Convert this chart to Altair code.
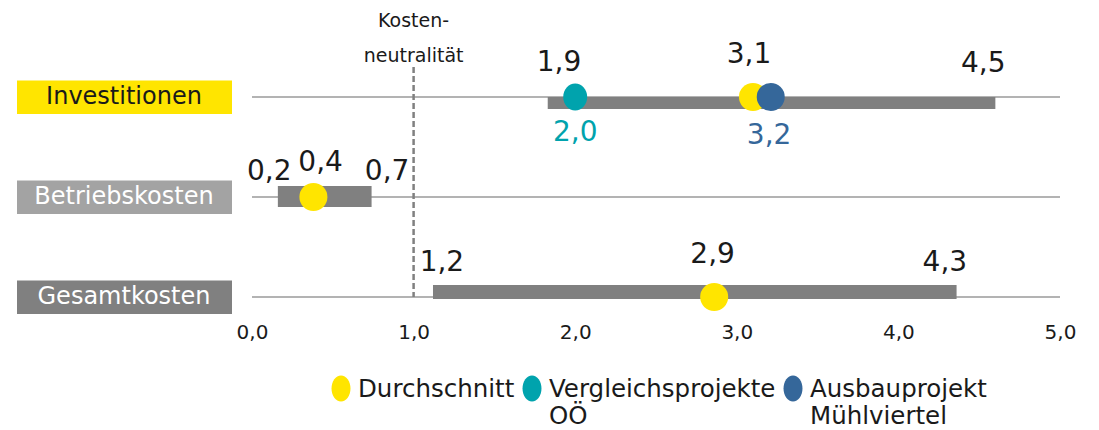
import altair as alt
import pandas as pd

# ---------------- data ----------------
categories = ["Investitionen", "Betriebskosten", "Gesamtkosten"]
range_min = [1.83, 0.16, 1.12]
range_max = [4.60, 0.74, 4.36]

series = ["Durchschnitt", "Vergleichsprojekte OÖ", "Ausbauprojekt Mühlviertel"]
point_category = ["Investitionen", "Betriebskosten", "Gesamtkosten",
                  "Investitionen", "Investitionen"]
point_series = ["Durchschnitt", "Durchschnitt", "Durchschnitt",
                "Vergleichsprojekte OÖ", "Ausbauprojekt Mühlviertel"]
point_value = [3.10, 0.38, 2.86, 2.00, 3.21]

label_category = ["Investitionen"] * 5 + ["Betriebskosten"] * 3 + ["Gesamtkosten"] * 3
label_value = [1.9, 3.1, 4.5, 2.0, 3.2, 0.2, 0.4, 0.7, 1.2, 2.9, 4.3]
label_series = ["Spanne", "Durchschnitt", "Spanne", "Vergleichsprojekte OÖ",
                "Ausbauprojekt Mühlviertel", "Spanne", "Durchschnitt", "Spanne",
                "Spanne", "Durchschnitt", "Spanne"]

x_ticks = [0, 1, 2, 3, 4, 5]
neutral_value = 1.0

# ---------------- styles ----------------
W, H = 808, 263
PX_X = W / 5.0      # pixels per x unit
PX_Y = 100.0        # pixels per row unit
series_colors = ["#FFE500", "#00A3AD", "#35679A"]
label_colors = {"Spanne": "#1a1a1a", "Durchschnitt": "#1a1a1a",
                "Vergleichsprojekte OÖ": "#00A3AD", "Ausbauprojekt Mühlviertel": "#35679A"}
box_fill = ["#FFE500", "#A3A3A3", "#808080"]
box_text = ["#1a1a1a", "#ffffff", "#ffffff"]
bar_top_px = [0, -11, -12]
bar_bottom_px = [12, 10, 2]
label_dx_px = [0, -4, 4, 0, 0, -15, 4, 22, -4, -8, -2]
label_dy_px = [-34.5, -42.5, -33, 36, 38.5, -25, -34, -25, -34.5, -42, -34]
FONT = "DejaVu Sans"

teal_path = "M0,-0.96A0.857,0.96,0,1,1,0,0.96A0.857,0.96,0,1,1,0,-0.96Z"
legend_path = "M0,-1.65A0.73,1,0,1,1,0,0.35A0.73,1,0,1,1,0,-1.65Z"

row_of = {c: i for i, c in enumerate(categories)}

df_cat = pd.DataFrame({
    "category": categories, "row": list(range(len(categories))),
    "lo": range_min, "hi": range_max,
    "box_fill": box_fill, "text_fill": box_text,
    "bt": bar_top_px, "bb": bar_bottom_px,
    "x0": [x_ticks[0]] * 3, "x1": [x_ticks[-1]] * 3,
})
df_pts = pd.DataFrame({
    "category": point_category, "series": point_series, "value": point_value,
    "row": [row_of[c] for c in point_category],
})
df_lab = pd.DataFrame({
    "category": label_category, "series": label_series, "value": label_value,
    "row": [row_of[c] for c in label_category],
    "dx": label_dx_px, "dy": label_dy_px,
    "tcolor": [label_colors[s] for s in label_series],
})
df_neutral = pd.DataFrame({"x": [neutral_value], "row_end": [len(categories) - 1]})

xscale = alt.Scale(domain=[x_ticks[0], x_ticks[-1]], nice=False, zero=False)
yscale = alt.Scale(domain=[-0.5, 2.13], reverse=True, nice=False, zero=False)
xaxis = alt.Axis(values=x_ticks, labelExpr="replace(format(datum.value, '.1f'), '.', ',')",
                 domain=False, ticks=False, grid=False, labelFont=FONT, labelFontSize=20,
                 labelColor="#1a1a1a", labelPadding=12, labelFlush=False,
                 labelOverlap=False, title=None)


def X(f):
    return alt.X(f, type="quantitative", scale=xscale, axis=xaxis)


def Y(f):
    return alt.Y(f, type="quantitative", scale=yscale, axis=None)


base = alt.Chart(df_cat)

grid = base.mark_rule(color="#9a9a9a", strokeWidth=1.5).encode(
    x=X("x0"), x2="x1", y=Y("row"))

neutral = alt.Chart(df_neutral).transform_calculate(row_start="-0.3").mark_rule(
    color="#808080", strokeWidth=2.5, strokeDash=[6, 3]).encode(
    x=X("x"), y=Y("row_start"), y2="row_end")

neutral_text = alt.Chart(df_neutral).mark_text(
    font=FONT, fontSize=19, color="#1a1a1a", align="center", baseline="alphabetic",
    lineBreak="\n", lineHeight=35).encode(
    x=X("x"), y=alt.value(-20), text=alt.value("Kosten-\nneutralität"))

bars = base.transform_calculate(
    ytop=f"datum.row + datum.bt / {PX_Y}", ybot=f"datum.row + datum.bb / {PX_Y}"
).mark_rect(color="#808080").encode(x=X("lo"), x2="hi", y=Y("ytop"), y2="ybot")

boxes = base.transform_calculate(
    btop="datum.row - 0.165", bbot="datum.row + 0.17"
).mark_rect().encode(
    x=alt.value(-235), x2=alt.value(-20), y=Y("btop"), y2="bbot",
    fill=alt.Fill("box_fill:N", scale=None))

box_labels = base.mark_text(font=FONT, fontSize=24, align="center", baseline="middle").encode(
    x=alt.value(-128), y=Y("row"), text="category:N",
    fill=alt.Fill("text_fill:N", scale=None))

legend = alt.Legend(
    title=None, orient="none", legendX=76, legendY=337, direction="horizontal",
    symbolType=legend_path, symbolSize=676, symbolStrokeWidth=0, symbolOpacity=1,
    labelFont=FONT, labelFontSize=24.5, labelColor="#1a1a1a",
    labelExpr="indexof(datum.label, ' ') < 0 ? [datum.label, '\u00a0'] : split(datum.label, ' ')",
    labelBaseline="alphabetic",
    labelOffset=4, columnPadding=4, padding=0, labelLimit=400)

points = alt.Chart(df_pts).mark_point(filled=True, opacity=1, strokeWidth=0).encode(
    x=X("value"), y=Y("row"),
    color=alt.Color("series:N", scale=alt.Scale(domain=series, range=series_colors),
                    legend=legend),
    shape=alt.condition(alt.datum.series == "Vergleichsprojekte OÖ",
                        alt.value(teal_path), alt.value("circle")),
    size=alt.value(784))

labels = alt.Chart(df_lab).transform_calculate(
    lx=f"datum.value + datum.dx / {PX_X}",
    ly=f"datum.row + datum.dy / {PX_Y}",
    txt="replace(format(datum.value, '.1f'), '.', ',')",
).mark_text(font=FONT, fontSize=28, align="center", baseline="middle").encode(
    x=X("lx"), y=Y("ly"), text="txt:N", fill=alt.Fill("tcolor:N", scale=None))

chart = alt.layer(grid, neutral, bars, boxes, box_labels, points, labels, neutral_text).properties(
    width=W, height=H, autosize=alt.AutoSizeParams(type="none"),
    padding={"left": 244, "top": 39, "right": 30, "bottom": 118},
).configure_view(stroke=None)

chart.save("out.html", embed_options={"renderer": "svg", "actions": False})
